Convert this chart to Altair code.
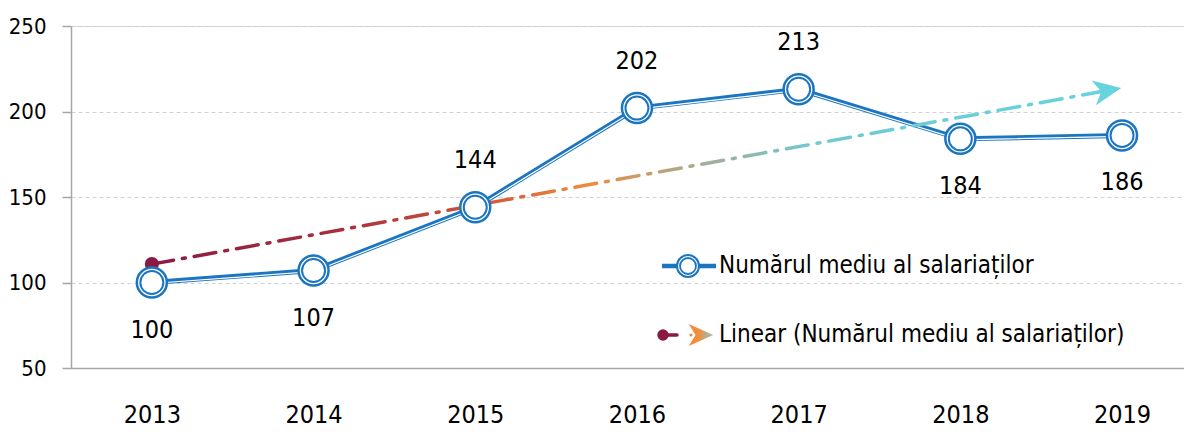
import altair as alt
import pandas as pd

years = [2013, 2014, 2015, 2016, 2017, 2018, 2019]
values = [100, 107, 144, 202, 213, 184, 186]
label_pos = ["below", "below", "above", "above", "above", "below", "below"]
y_ticks = [50, 100, 150, 200, 250]
series_name = "Numărul mediu al salariaților"
trend_name = "Linear (Numărul mediu al salariaților)"

df = pd.DataFrame({"year": years, "value": values, "pos": label_pos})
one = pd.DataFrame({"k": [0]})

FONT = "DejaVu Sans Condensed, DejaVu Sans, sans-serif"
BLUE = "#1B75C0"
MAROON = "#8B1A42"
TEAL = "#66D3DE"
ORANGE = "#EE8A3A"
GRAY = "#A6A6A6"
W, H = 1113, 342
BAND = 161.7

ARROW = "M 1 0 L -1 -0.9 L -0.45 0 L -1 0.9 Z"

x = alt.X("year:Q",
          scale=alt.Scale(domain=[2012.5, 2012.5 + W / BAND], nice=False, zero=False),
          axis=alt.Axis(values=years, format="d", title=None, grid=False, ticks=False,
                        domainColor=GRAY, domainWidth=1.5, labelFont=FONT, labelFontSize=25,
                        labelColor="#000000", labelBaseline="alphabetic", labelPadding=54))
y = alt.Y("value:Q",
          scale=alt.Scale(domain=[50, 250], nice=False, zero=False),
          axis=alt.Axis(values=y_ticks, title=None, grid=True, gridColor="#D0D0D0",
                        gridDash=[4, 3], gridWidth=1, domainColor=GRAY, domainWidth=1.5,
                        tickColor=GRAY, tickSize=9, tickWidth=1.5, labelFont=FONT,
                        labelFontSize=22, labelColor="#000000", labelPadding=16))

base = alt.Chart(df)

line = base.mark_line(color=BLUE, strokeWidth=5).encode(x=x, y=y)
stripe = base.mark_line(color="white", strokeWidth=1.2, yOffset=1).encode(x=x, y=y)

trend_grad = alt.LinearGradient(
    gradient="linear",
    stops=[
        alt.GradientStop(color=MAROON, offset=0),
        alt.GradientStop(color="#A8303C", offset=0.2),
        alt.GradientStop(color="#D0583A", offset=0.35),
        alt.GradientStop(color=ORANGE, offset=0.45),
        alt.GradientStop(color="#A2AE9A", offset=0.58),
        alt.GradientStop(color="#70CAD3", offset=0.7),
        alt.GradientStop(color=TEAL, offset=1),
    ],
    x1=0, x2=1, y1=0, y2=0,
)

trend_src = base.transform_regression("year", "value", extent=[2013, 2018.91])
trend = trend_src.mark_line(stroke=trend_grad, strokeWidth=3.5, strokeDash=[22, 9, 3, 9],
                            strokeCap="round").encode(x=x, y=y)
start_dot = trend_src.transform_filter("datum.year < 2014").mark_point(
    shape="circle", filled=True, color=MAROON, size=200, opacity=1).encode(x=x, y=y)
arrow = trend_src.transform_filter("datum.year > 2018").mark_point(
    shape=ARROW, filled=True, color=TEAL, size=784, angle=350, opacity=1).encode(x=x, y=y)

outer = base.mark_point(shape="circle", filled=True, fill="white", stroke=BLUE,
                        strokeWidth=2.5, size=900, opacity=1).encode(x=x, y=y)
inner = base.mark_point(shape="circle", filled=False, stroke=BLUE, strokeWidth=2,
                        size=529, opacity=1).encode(x=x, y=y)

lab_above = base.transform_filter("datum.pos == 'above'").mark_text(
    dy=-47, font=FONT, fontSize=25, color="#000000", baseline="middle").encode(
    x=x, y=y, text=alt.Text("value:Q"))
lab_below = base.transform_filter("datum.pos == 'below'").mark_text(
    dy=47, font=FONT, fontSize=25, color="#000000", baseline="middle").encode(
    x=x, y=y, text=alt.Text("value:Q"))

# legend (custom)
leg = alt.Chart(one)
l1_line = leg.mark_rule(color=BLUE, strokeWidth=4.5).encode(
    x=alt.value(591), x2=alt.value(645), y=alt.value(240))
l1_outer = leg.mark_point(shape="circle", filled=True, fill="white", stroke=BLUE,
                          strokeWidth=2, size=484, opacity=1).encode(x=alt.value(617), y=alt.value(240))
l1_inner = leg.mark_point(shape="circle", filled=False, stroke=BLUE, strokeWidth=1.8,
                          size=256, opacity=1).encode(x=alt.value(617), y=alt.value(240))
l1_text = leg.mark_text(align="left", baseline="middle", font=FONT, fontSize=24,
                        color="#000000").encode(x=alt.value(648), y=alt.value(240),
                                                text=alt.value(series_name))

l2_dash = leg.mark_rule(color=MAROON, strokeWidth=3.5, strokeCap="round").encode(
    x=alt.value(592), x2=alt.value(606), y=alt.value(309))
l2_dot = leg.mark_point(shape="circle", filled=True, color=MAROON, size=130, opacity=1).encode(
    x=alt.value(592), y=alt.value(309))
arrow_grad = alt.LinearGradient(
    gradient="linear",
    stops=[alt.GradientStop(color=ORANGE, offset=0), alt.GradientStop(color="#F09040", offset=0.4),
           alt.GradientStop(color="#8EC2C0", offset=1)],
    x1=0, x2=1, y1=0, y2=0)
l2_arrow = leg.mark_point(shape=ARROW, filled=True, fill=arrow_grad, size=600, opacity=1,
                          strokeWidth=0).encode(x=alt.value(630), y=alt.value(309))
l2_small = leg.mark_point(shape="circle", filled=True, color=ORANGE, size=10, opacity=1).encode(
    x=alt.value(620), y=alt.value(309))
l2_text = leg.mark_text(align="left", baseline="middle", font=FONT, fontSize=24,
                        color="#000000").encode(x=alt.value(648), y=alt.value(309),
                                                text=alt.value(trend_name))

chart = alt.layer(
    line, stripe, trend, start_dot, arrow, outer, inner, lab_above, lab_below,
    l1_line, l1_outer, l1_inner, l1_text, l2_dash, l2_dot, l2_arrow, l2_small, l2_text,
).properties(
    width=W, height=H,
    autosize=alt.AutoSizeParams(type="none"),
    padding={"left": 63, "top": 18, "right": 0, "bottom": 59},
).configure_view(strokeWidth=0).configure(background="white")

chart.save("out.html", embed_options={"renderer": "svg", "actions": False})
